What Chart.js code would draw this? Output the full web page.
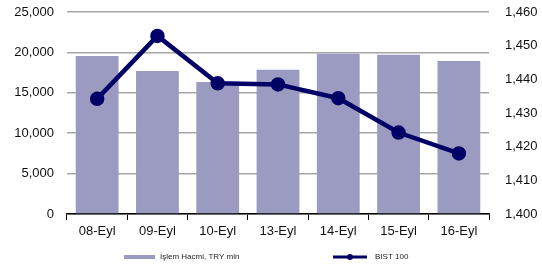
<!DOCTYPE html>
<html>
<head>
<meta charset="utf-8">
<script src="https://cdn.jsdelivr.net/npm/chart.js@4"></script>
<style>
  html, body { margin: 0; padding: 0; background: #fff; }
  #wrap { width: 542px; height: 268px; }
</style>
</head>
<body>
<div id="wrap"><canvas id="islemChart" width="542" height="268"></canvas></div>
<script>
// data
const dayLabels = ["08-Eyl", "09-Eyl", "10-Eyl", "13-Eyl", "14-Eyl", "15-Eyl", "16-Eyl"];
const volumeData = [19550, 17700, 16340, 17860, 19840, 19720, 18940];
const bistData = [1434.2, 1452.9, 1438.8, 1438.5, 1434.4, 1424.2, 1418.0];
const volumeName = "İşlem Hacmi, TRY mln";
const bistName = "BIST 100";

const barColor = "#9b9bc2";
const lineColor = "#000066";
const fontName = "'Liberation Sans', Arial, sans-serif";

// legend drawn by hand: flat box for the bars, line with a dot for BIST
const bottomLegend = {
    id: "bottomLegend",
    afterDraw(chart){
        const ctx = chart.ctx;
        const y = 257;
        ctx.save();
        ctx.font = "8px " + fontName;
        ctx.textBaseline = "middle";

        ctx.fillStyle = barColor;
        ctx.fillRect(124, y - 2, 31, 4);
        ctx.fillStyle = "#222";
        ctx.fillText(volumeName, 160, y);

        ctx.strokeStyle = lineColor;
        ctx.lineWidth = 3;
        ctx.beginPath();
        ctx.moveTo(333, y);
        ctx.lineTo(367, y);
        ctx.stroke();
        ctx.fillStyle = lineColor;
        ctx.beginPath();
        ctx.arc(350, y, 3, 0, Math.PI * 2);
        ctx.fill();
        ctx.fillStyle = "#222";
        ctx.fillText(bistName, 375, y);
        ctx.restore();
    }
};

// y axes: fixed width, no extra top/bottom padding from the tick labels
function fitY(width){
    return function(scale){
        scale.width = width;
        scale.paddingTop = 0;
        scale.paddingBottom = 0;
    };
}

new Chart("islemChart", {
    data: {
        labels: dayLabels,
        datasets: [
            {
                type: "line",
                label: bistName,
                data: bistData,
                yAxisID: "y1",
                borderColor: lineColor,
                backgroundColor: lineColor,
                borderWidth: 4.5,
                pointRadius: 5,
                pointHoverRadius: 5,
                tension: 0,
                order: 0
            },
            {
                type: "bar",
                label: volumeName,
                data: volumeData,
                yAxisID: "y",
                backgroundColor: barColor,
                categoryPercentage: 1,
                barPercentage: 0.71,
                order: 1
            }
        ]
    },
    options: {
        responsive: false,
        animation: false,
        layout: {
            padding: { top: 12, bottom: 26, left: 0, right: 0 }
        },
        plugins: {
            legend: { display: false },
            tooltip: { enabled: false }
        },
        scales: {
            x: {
                offset: true,
                grid: {
                    display: true,
                    offset: true,
                    drawOnChartArea: false,
                    drawTicks: true,
                    tickLength: 6,
                    color: "#000",
                    lineWidth: 1
                },
                border: { display: true, color: "#000", width: 1.5 },
                ticks: {
                    color: "#111",
                    padding: 4,
                    font: { family: fontName, size: 13 }
                },
                afterFit(scale){ scale.height = 28; }
            },
            y: {
                position: "left",
                min: 0,
                max: 25000,
                ticks: {
                    stepSize: 5000,
                    color: "#111",
                    padding: 13,
                    font: { family: fontName, size: 13 },
                    callback: v => v.toLocaleString("en-US")
                },
                grid: {
                    color: "#a6a6a6",
                    lineWidth: 1.5,
                    drawTicks: false
                },
                border: { display: false },
                afterFit: fitY(67)
            },
            y1: {
                position: "right",
                min: 1400,
                max: 1460,
                ticks: {
                    stepSize: 10,
                    color: "#111",
                    padding: 16,
                    font: { family: fontName, size: 13 },
                    callback: v => v.toLocaleString("en-US")
                },
                grid: { drawOnChartArea: false, drawTicks: false },
                border: { display: false },
                afterFit: fitY(53)
            }
        }
    },
    plugins: [bottomLegend]
});
</script>
</body>
</html>
